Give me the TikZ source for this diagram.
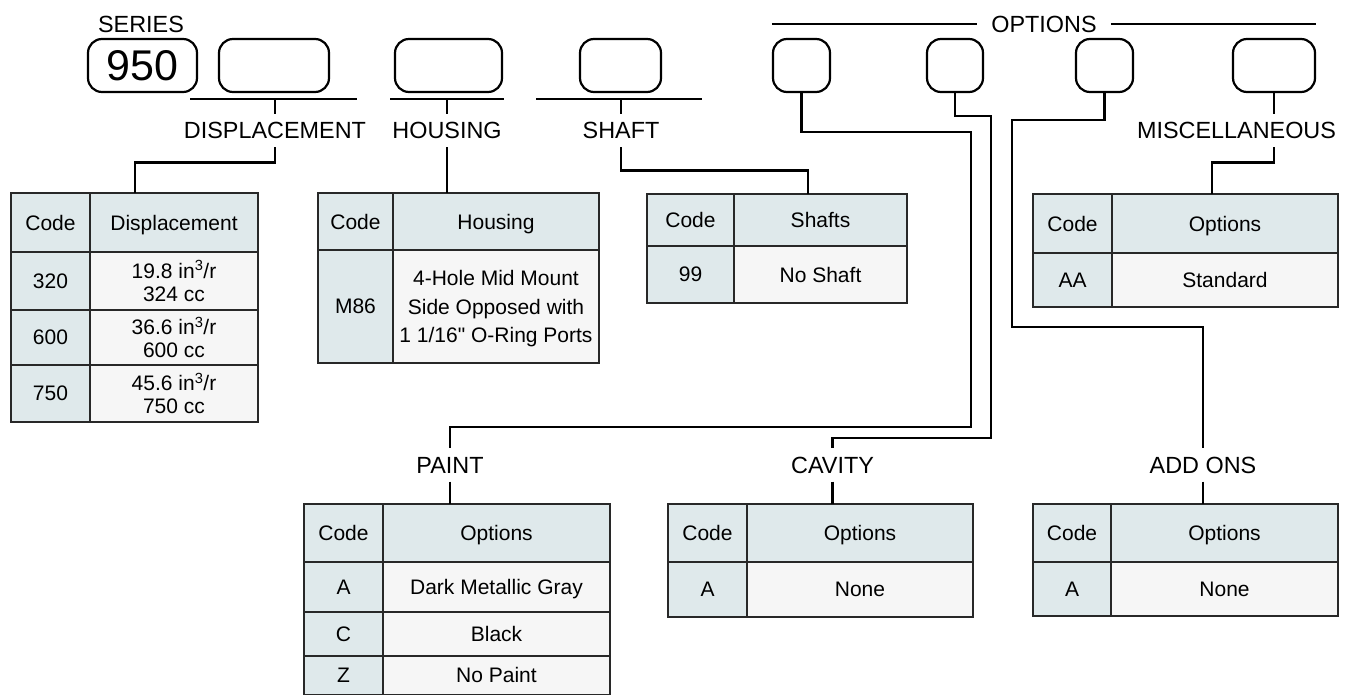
\documentclass[tikz,border=0pt]{standalone}
\usepackage{fontspec}
\setmainfont{Liberation Sans}[Ligatures=TeXOff]
\usetikzlibrary{positioning}
\definecolor{codefill}{RGB}{223,233,235}
\definecolor{valfill}{RGB}{246,246,246}
\definecolor{tabline}{RGB}{40,40,40}
\newcommand{\lblfont}{\fontsize{23.4}{28}\selectfont}
\newcommand{\cellfont}{\fontsize{21}{28.5}\selectfont}
\newcommand{\tabHead}[7]{%
    \node[headcell, minimum width=#4, minimum height=#6] (#1-hc) at (#2,#3) {Code};
    \node[headcell, minimum width=#5, minimum height=#6, right=0pt of #1-hc] (#1-hv) {#7};
}
\newcommand{\tabRow}[8]{%
    \node[codecell, minimum width=#4, minimum height=#6] (#1c) at (#2,#3) {#7};
    \node[valcell, rowval, minimum width=#5, minimum height=#6, right=0pt of #1c] (#1v) {#8};
}
\tikzset{
    selbox/.style={draw, line width=2.2pt, rounded corners=14pt, minimum height=53, inner sep=0pt},
    lbl/.style={font=\lblfont, text height=17pt, text depth=0pt, inner xsep=0pt, inner ysep=8pt},
    conn/.style={line width=2.5pt},
    bar/.style={line width=2.3pt},
    thinbar/.style={line width=1.8pt},
    cell/.style={draw=tabline, line width=1.3pt, inner sep=0pt, outer sep=0pt, anchor=north west,
        font=\cellfont, align=center, text depth=0pt},
    headcell/.style={cell, fill=codefill},
    codecell/.style={cell, fill=codefill},
    valcell/.style={cell, fill=valfill},
    rowval/.style={}
}

\begin{document}
\begin{tikzpicture}[x=1pt, y=-1pt]
    \useasboundingbox (0,0) rectangle (1348,695);

    % code boxes
    \node[selbox, minimum width=109, font=\fontsize{43}{43}\selectfont] (sel-series) at (142.5,65.5) {950};
    \node[selbox, minimum width=110] (sel-disp) at (274,65.5) {};
    \node[selbox, minimum width=107] (sel-house) at (448.5,65.5) {};
    \node[selbox, minimum width=81] (sel-shaft) at (620.5,65.5) {};
    \node[selbox, minimum width=57] (sel-paint) at (801.5,65.5) {};
    \node[selbox, minimum width=56] (sel-cav) at (955,65.5) {};
    \node[selbox, minimum width=57] (sel-add) at (1104.5,65.5) {};
    \node[selbox, minimum width=82] (sel-misc) at (1274,65.5) {};

    \node[lbl] (lbl-series) at (141,24) {SERIES};
    \node[lbl, inner xsep=14pt] (lbl-opt) at (1044,24) {OPTIONS};
    \node[lbl] (lbl-disp) at (275,130.5) {DISPLACEMENT};
    \node[lbl] (lbl-house) at (447,130.5) {HOUSING};
    \node[lbl] (lbl-shaft) at (621,130.5) {SHAFT};
    \node[lbl] (lbl-misc) at (1236.5,130.5) {MISCELLANEOUS};
    \node[lbl] (lbl-paint) at (450,465) {PAINT};
    \node[lbl] (lbl-cav) at (832.5,465) {CAVITY};
    \node[lbl] (lbl-add) at (1203,465) {ADD ONS};

    % tables
    \begin{scope}[rowval/.style={font=\fontsize{21}{23}\selectfont}]
        \tabHead{disp}{11}{193}{79}{168}{59}{Displacement}
        \tabRow{disp-r1}{11}{252}{79}{168}{58}{320}{19.8 in\textsuperscript{3}/r\\324 cc}
        \tabRow{disp-r2}{11}{310}{79}{168}{55}{600}{36.6 in\textsuperscript{3}/r\\600 cc}
        \tabRow{disp-r3}{11}{365}{79}{168}{57}{750}{45.6 in\textsuperscript{3}/r\\750 cc}
    \end{scope}
    \tabHead{house}{318}{193}{75}{206}{57}{Housing}
    \tabRow{house-r1}{318}{250}{75}{206}{113}{M86}{4-Hole Mid Mount\\Side Opposed with\\1 1/16" O-Ring Ports}
    \tabHead{shaft}{647}{194}{87}{173}{52}{Shafts}
    \tabRow{shaft-r1}{647}{246}{87}{173}{57}{99}{No Shaft}
    \tabHead{misc}{1033}{194}{79}{226}{59}{Options}
    \tabRow{misc-r1}{1033}{253}{79}{226}{54}{AA}{Standard}
    \tabHead{paint}{304}{504}{79}{227}{58}{Options}
    \tabRow{paint-r1}{304}{562}{79}{227}{50}{A}{Dark Metallic Gray}
    \tabRow{paint-r2}{304}{612}{79}{227}{44}{C}{Black}
    \tabRow{paint-r3}{304}{656}{79}{227}{38.5}{Z}{No Paint}
    \tabHead{cav}{668}{504}{79}{226}{58}{Options}
    \tabRow{cav-r1}{668}{562}{79}{226}{55}{A}{None}
    \tabHead{add}{1033}{504}{78}{227}{58}{Options}
    \tabRow{add-r1}{1033}{562}{78}{227}{54}{A}{None}

    % brackets under the boxes
    \foreach \n/\l/\r in {disp/190/357, house/390/504, shaft/536/702} {
        \coordinate (bar-\n-l) at (\l,99);
        \coordinate (bar-\n-r) at (\r,99);
        \draw[bar] (bar-\n-l) -- (bar-\n-r);
        \draw[conn] (lbl-\n.north |- bar-\n-l) -- (lbl-\n.north);
    }
    \draw[thinbar] (sel-paint.north west |- lbl-opt.west) -- (lbl-opt.west);
    \draw[thinbar] (lbl-opt.east) -- (sel-misc.north east |- lbl-opt.east);

    % connectors
    \draw[conn] (lbl-disp.south) -- ++(0,15.5) -| ([xshift=45]disp-hv.north west);
    \draw[conn] (lbl-house.south) -- (lbl-house.south |- house-hv.north);
    \draw[conn] (lbl-shaft.south) -- ++(0,23.5) -| ([xshift=74]shaft-hv.north west);
    \draw[conn] (sel-misc.south) -- (sel-misc.south |- lbl-misc.north);
    \draw[conn] (sel-misc.south |- lbl-misc.south) -- ++(0,15.5) -| ([xshift=100]misc-hv.north west);

    \coordinate (bend-paint) at (971,427);
    \coordinate (bend-cav) at (991,438);
    \coordinate (bend-add) at (1012,327);
    \draw[conn] (sel-paint.south) -- ++(0,39) -| (bend-paint) -| (lbl-paint.north);
    \draw[conn] (sel-cav.south) -- ++(0,23) -| (bend-cav) -| (lbl-cav.north);
    \draw[conn] (sel-add.south) -- ++(0,27) -| (bend-add) -| (lbl-add.north);
    \draw[conn] (lbl-paint.south) -- (lbl-paint.south |- paint-hv.north);
    \draw[conn] (lbl-cav.south) -- (lbl-cav.south |- cav-hv.north);
    \draw[conn] (lbl-add.south) -- (lbl-add.south |- add-hv.north);
\end{tikzpicture}
\end{document}
